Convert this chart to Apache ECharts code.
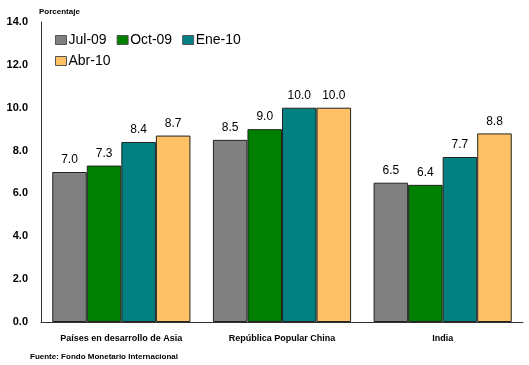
<!DOCTYPE html>
<html>
<head>
<meta charset="utf-8">
<script src="https://cdn.jsdelivr.net/npm/echarts@6/dist/echarts.min.js"></script>
<style>
  html, body { margin: 0; padding: 0; background: #fff; }
  #chart { width: 529px; height: 365px; }
</style>
</head>
<body>
<div id="chart"></div>
<script>
// Regions shown on the category axis
const categories = ['Países en desarrollo de Asia', 'República Popular China', 'India'];

// Growth figures (percent) per forecast vintage
const seriesNames = ['Jul-09', 'Oct-09', 'Ene-10', 'Abr-10'];
const jul09 = [7.0, 8.5, 6.5];
const oct09 = [7.3, 9.0, 6.4];
const ene10 = [8.4, 10.0, 7.7];
const abr10 = [8.7, 10.0, 8.8];

const seriesValues = [jul09, oct09, ene10, abr10];
const seriesColors = ['#808080', '#008000', '#008080', '#FFC166'];

const FONT = '"Liberation Sans", Arial, sans-serif';

const chart = echarts.init(document.getElementById('chart'), null, { renderer: 'canvas' });

// Shared legend styling; the legend is split over two rows
const legendBase = {
  left: 50,
  itemWidth: 11,
  itemHeight: 9,
  itemGap: 10,
  icon: 'rect',
  textStyle: { fontFamily: FONT, fontSize: 14, color: '#000', padding: [0, 0, 0, -3] },
  itemStyle: { borderColor: '#555', borderWidth: 1 }
};

chart.setOption({
  animation: false,
  backgroundColor: '#ffffff',
  grid: { left: 41, right: 6, top: 22, bottom: 43, containLabel: false },
  legend: [
    Object.assign({}, legendBase, { top: 28, data: seriesNames.slice(0, 3) }),
    Object.assign({}, legendBase, { top: 49, data: seriesNames.slice(3) })
  ],
  xAxis: {
    type: 'category',
    data: categories,
    axisLine: { lineStyle: { color: '#333', width: 1 } },
    axisTick: { show: false },
    axisLabel: { fontFamily: FONT, fontSize: 9, fontWeight: 'bold', color: '#000', margin: 12 }
  },
  yAxis: {
    type: 'value',
    min: 0,
    max: 14,
    interval: 2,
    name: 'Porcentaje',
    nameLocation: 'end',
    nameGap: 6,
    nameTextStyle: { fontFamily: FONT, fontSize: 8, fontWeight: 'bold', color: '#000', align: 'left', padding: [0, 0, 0, -2] },
    axisLine: { show: true, lineStyle: { color: '#333', width: 1 } },
    axisTick: { show: false },
    splitLine: { show: false },
    axisLabel: {
      fontFamily: FONT, fontSize: 11, fontWeight: 'bold', color: '#000', margin: 13,
      formatter: v => v.toFixed(1)
    }
  },
  series: seriesNames.map((name, i) => ({
    name,
    type: 'bar',
    data: seriesValues[i],
    barGap: '0%',
    barCategoryGap: '14%',
    itemStyle: { color: seriesColors[i], borderColor: '#222', borderWidth: 1 },
    label: {
      show: true,
      position: 'top',
      distance: 6,
      fontFamily: FONT,
      fontSize: 12,
      color: '#000',
      formatter: p => p.value.toFixed(1)
    }
  })),
  graphic: [
    {
      type: 'text',
      left: 30,
      top: 353,
      style: {
        text: 'Fuente: Fondo Monetario Internacional',
        font: 'bold 8px ' + FONT,
        fill: '#000'
      }
    }
  ]
});
</script>
</body>
</html>
